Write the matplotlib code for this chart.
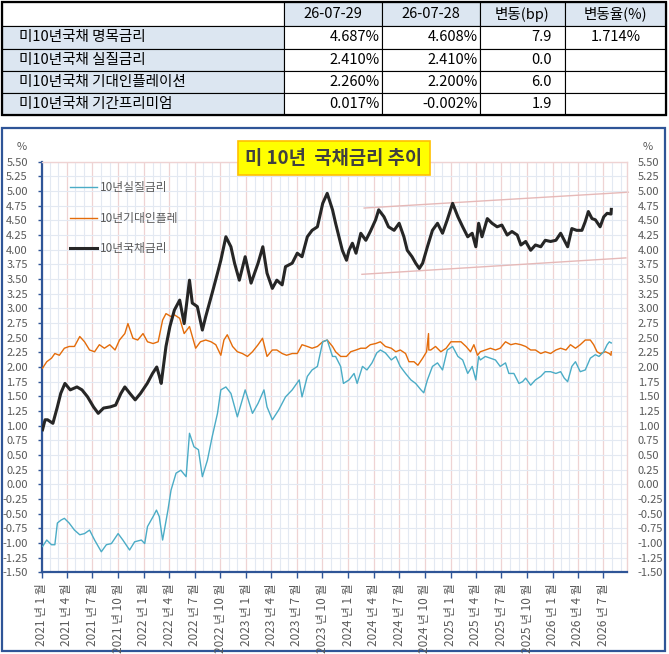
import matplotlib
matplotlib.use("Agg")
import matplotlib.pyplot as plt
import matplotlib.dates as mdates
from matplotlib.patches import Rectangle
from matplotlib.ticker import FuncFormatter
import numpy as np
import pandas as pd

plt.rcParams["font.family"] = ["Noto Sans CJK KR", "DejaVu Sans"]

# ---- table data
table_head = ["", "26-07-29", "26-07-28", "변동(bp)", "변동율(%)"]
table_rows = ["미10년국채 명목금리", "미10년국채 실질금리",
              "미10년국채 기대인플레이션", "미10년국채 기간프리미엄"]
table_cur = ["4.687%", "2.410%", "2.260%", "0.017%"]
table_prev = ["4.608%", "2.410%", "2.200%", "-0.002%"]
table_chg = ["7.9", "0.0", "6.0", "1.9"]
table_pct = ["1.714%", "", "", ""]

# ---- series
real = [
    ("2021-01-04", -1.06), ("2021-01-19", -0.95), ("2021-02-05", -1.03), ("2021-02-17", -1.03),
    ("2021-02-26", -0.66), ("2021-03-11", -0.61), ("2021-03-23", -0.58), ("2021-04-09", -0.66),
    ("2021-04-28", -0.78), ("2021-05-17", -0.86), ("2021-06-03", -0.84), ("2021-06-21", -0.78),
    ("2021-07-09", -0.95), ("2021-08-02", -1.15), ("2021-08-20", -1.03), ("2021-09-07", -1.01),
    ("2021-10-01", -0.84), ("2021-10-18", -0.95), ("2021-11-11", -1.12), ("2021-11-29", -0.98),
    ("2021-12-23", -0.95), ("2022-01-04", -1.01), ("2022-01-14", -0.72), ("2022-02-03", -0.55),
    ("2022-02-15", -0.44), ("2022-02-25", -0.55), ("2022-03-09", -0.95), ("2022-03-28", -0.44),
    ("2022-04-08", -0.10), ("2022-04-26", 0.19), ("2022-05-13", 0.24), ("2022-06-01", 0.13),
    ("2022-06-13", 0.87), ("2022-06-29", 0.64), ("2022-07-15", 0.59), ("2022-07-29", 0.13),
    ("2022-08-16", 0.41), ("2022-09-02", 0.81), ("2022-09-21", 1.21), ("2022-10-03", 1.61),
    ("2022-10-21", 1.66), ("2022-11-08", 1.55), ("2022-12-01", 1.15), ("2022-12-29", 1.61),
    ("2023-01-24", 1.21), ("2023-02-13", 1.38), ("2023-03-06", 1.61), ("2023-03-17", 1.32),
    ("2023-04-05", 1.10), ("2023-04-28", 1.27), ("2023-05-22", 1.49), ("2023-06-15", 1.61),
    ("2023-07-10", 1.78), ("2023-07-20", 1.49), ("2023-08-08", 1.84), ("2023-08-25", 1.95),
    ("2023-09-13", 2.01), ("2023-10-02", 2.43), ("2023-10-18", 2.46), ("2023-11-06", 2.18),
    ("2023-11-17", 2.18), ("2023-12-05", 2.01), ("2023-12-15", 1.72), ("2024-01-04", 1.78),
    ("2024-01-22", 1.89), ("2024-02-02", 1.72), ("2024-02-21", 2.01), ("2024-03-08", 1.95),
    ("2024-03-26", 2.07), ("2024-04-12", 2.24), ("2024-04-25", 2.29), ("2024-05-13", 2.24),
    ("2024-06-03", 2.12), ("2024-06-19", 2.18), ("2024-07-05", 2.01), ("2024-07-24", 1.89),
    ("2024-08-12", 1.78), ("2024-08-29", 1.72), ("2024-09-17", 1.61), ("2024-09-27", 1.56),
    ("2024-10-10", 1.78), ("2024-10-28", 2.01), ("2024-11-15", 2.07), ("2024-12-03", 1.95),
    ("2024-12-20", 2.29), ("2025-01-08", 2.35), ("2025-01-27", 2.18), ("2025-02-13", 2.12),
    ("2025-03-03", 1.89), ("2025-03-19", 2.01), ("2025-04-01", 1.78), ("2025-04-11", 2.18),
    ("2025-04-17", 2.12), ("2025-05-05", 2.18), ("2025-05-23", 2.15), ("2025-06-10", 2.12),
    ("2025-06-27", 2.01), ("2025-07-16", 2.07), ("2025-07-28", 1.89), ("2025-08-15", 1.89),
    ("2025-09-02", 1.72), ("2025-09-15", 1.75), ("2025-09-26", 1.81), ("2025-10-14", 1.69),
    ("2025-10-31", 1.78), ("2025-11-19", 1.84), ("2025-12-05", 1.92), ("2025-12-24", 1.92),
    ("2026-01-12", 1.89), ("2026-01-29", 1.92), ("2026-02-11", 1.81), ("2026-02-23", 1.75),
    ("2026-03-10", 2.01), ("2026-03-23", 2.09), ("2026-04-09", 1.92), ("2026-04-27", 1.95),
    ("2026-05-15", 2.15), ("2026-06-02", 2.21), ("2026-06-15", 2.18), ("2026-07-02", 2.26),
    ("2026-07-14", 2.38), ("2026-07-22", 2.43), ("2026-07-28", 2.41), ("2026-07-29", 2.41),
]

breakeven = [
    ("2021-01-04", 1.98), ("2021-01-19", 2.09), ("2021-02-05", 2.15), ("2021-02-17", 2.23),
    ("2021-03-05", 2.20), ("2021-03-23", 2.32), ("2021-04-09", 2.35), ("2021-04-28", 2.35),
    ("2021-05-17", 2.52), ("2021-06-03", 2.43), ("2021-06-21", 2.29), ("2021-07-09", 2.26),
    ("2021-07-26", 2.38), ("2021-08-13", 2.32), ("2021-09-01", 2.38), ("2021-09-20", 2.29),
    ("2021-10-06", 2.46), ("2021-10-25", 2.57), ("2021-11-05", 2.74), ("2021-11-23", 2.49),
    ("2021-12-10", 2.46), ("2021-12-29", 2.57), ("2022-01-14", 2.43), ("2022-02-03", 2.40),
    ("2022-02-21", 2.43), ("2022-03-09", 2.80), ("2022-03-21", 2.91), ("2022-04-08", 2.86),
    ("2022-04-20", 2.89), ("2022-05-09", 2.83), ("2022-05-25", 2.57), ("2022-06-13", 2.69),
    ("2022-07-05", 2.32), ("2022-07-22", 2.43), ("2022-08-10", 2.46), ("2022-08-29", 2.43),
    ("2022-09-15", 2.38), ("2022-10-03", 2.20), ("2022-10-14", 2.46), ("2022-10-26", 2.55),
    ("2022-11-14", 2.35), ("2022-12-01", 2.26), ("2022-12-19", 2.23), ("2023-01-06", 2.18),
    ("2023-01-24", 2.26), ("2023-02-13", 2.38), ("2023-03-01", 2.49), ("2023-03-17", 2.18),
    ("2023-04-05", 2.29), ("2023-04-21", 2.29), ("2023-05-10", 2.23), ("2023-05-26", 2.20),
    ("2023-06-15", 2.23), ("2023-07-03", 2.23), ("2023-07-20", 2.38), ("2023-08-08", 2.35),
    ("2023-08-25", 2.32), ("2023-09-13", 2.35), ("2023-10-02", 2.43), ("2023-10-18", 2.46),
    ("2023-11-06", 2.35), ("2023-11-17", 2.26), ("2023-12-05", 2.18), ("2023-12-26", 2.18),
    ("2024-01-10", 2.26), ("2024-01-29", 2.29), ("2024-02-15", 2.32), ("2024-03-04", 2.32),
    ("2024-03-20", 2.38), ("2024-04-08", 2.40), ("2024-04-25", 2.43), ("2024-05-13", 2.35),
    ("2024-06-03", 2.32), ("2024-06-19", 2.26), ("2024-07-05", 2.29), ("2024-07-24", 2.23),
    ("2024-08-05", 2.09), ("2024-08-23", 2.09), ("2024-09-06", 2.03), ("2024-09-23", 2.15),
    ("2024-10-07", 2.26), ("2024-10-14", 2.57), ("2024-10-15", 2.29), ("2024-10-22", 2.29),
    ("2024-11-08", 2.35), ("2024-11-27", 2.26), ("2024-12-16", 2.32), ("2025-01-02", 2.43),
    ("2025-01-21", 2.43), ("2025-02-07", 2.43), ("2025-02-25", 2.35), ("2025-03-13", 2.26),
    ("2025-03-25", 2.38), ("2025-04-07", 2.20), ("2025-04-17", 2.26), ("2025-05-05", 2.29),
    ("2025-05-23", 2.32), ("2025-06-10", 2.29), ("2025-06-27", 2.32), ("2025-07-16", 2.43),
    ("2025-08-04", 2.38), ("2025-08-21", 2.40), ("2025-09-09", 2.38), ("2025-09-26", 2.35),
    ("2025-10-14", 2.29), ("2025-10-31", 2.29), ("2025-11-19", 2.23), ("2025-12-05", 2.26),
    ("2025-12-24", 2.23), ("2026-01-12", 2.29), ("2026-01-29", 2.32), ("2026-02-17", 2.29),
    ("2026-03-05", 2.38), ("2026-03-23", 2.32), ("2026-04-09", 2.38), ("2026-04-27", 2.46),
    ("2026-05-15", 2.46), ("2026-05-27", 2.38), ("2026-06-08", 2.26), ("2026-06-19", 2.23),
    ("2026-07-08", 2.26), ("2026-07-22", 2.23), ("2026-07-28", 2.20), ("2026-07-29", 2.26),
]

nominal = [
    ("2021-01-04", 0.93), ("2021-01-13", 1.10), ("2021-01-22", 1.10), ("2021-02-10", 1.04),
    ("2021-02-26", 1.32), ("2021-03-10", 1.55), ("2021-03-25", 1.72), ("2021-04-13", 1.61),
    ("2021-05-07", 1.66), ("2021-05-25", 1.61), ("2021-06-14", 1.49), ("2021-07-05", 1.32),
    ("2021-07-22", 1.21), ("2021-08-10", 1.30), ("2021-09-03", 1.32), ("2021-09-22", 1.35),
    ("2021-10-11", 1.55), ("2021-10-25", 1.66), ("2021-11-12", 1.55), ("2021-12-01", 1.44),
    ("2021-12-20", 1.55), ("2022-01-13", 1.72), ("2022-02-01", 1.89), ("2022-02-16", 2.00),
    ("2022-02-25", 1.85), ("2022-03-04", 1.72), ("2022-03-21", 2.35), ("2022-04-04", 2.69),
    ("2022-04-20", 2.97), ("2022-05-09", 3.14), ("2022-05-25", 2.74), ("2022-06-13", 3.48),
    ("2022-06-23", 3.09), ("2022-07-11", 3.03), ("2022-07-29", 2.63), ("2022-08-10", 2.86),
    ("2022-09-02", 3.26), ("2022-09-21", 3.60), ("2022-10-03", 3.82), ("2022-10-21", 4.22),
    ("2022-11-08", 4.05), ("2022-11-21", 3.77), ("2022-12-08", 3.48), ("2022-12-29", 3.88),
    ("2023-01-19", 3.43), ("2023-02-13", 3.77), ("2023-03-02", 4.05), ("2023-03-17", 3.60),
    ("2023-04-05", 3.34), ("2023-04-21", 3.48), ("2023-05-10", 3.40), ("2023-05-22", 3.71),
    ("2023-06-15", 3.77), ("2023-07-03", 3.94), ("2023-07-20", 3.88), ("2023-08-08", 4.22),
    ("2023-08-25", 4.33), ("2023-09-13", 4.39), ("2023-10-02", 4.79), ("2023-10-18", 4.96),
    ("2023-11-06", 4.68), ("2023-11-17", 4.45), ("2023-11-29", 4.22), ("2023-12-11", 3.99),
    ("2023-12-26", 3.82), ("2024-01-04", 3.99), ("2024-01-16", 4.11), ("2024-01-29", 3.94),
    ("2024-02-15", 4.28), ("2024-03-04", 4.16), ("2024-03-20", 4.31), ("2024-04-08", 4.51),
    ("2024-04-19", 4.68), ("2024-05-08", 4.56), ("2024-05-24", 4.39), ("2024-06-13", 4.33),
    ("2024-07-01", 4.45), ("2024-07-18", 4.22), ("2024-07-30", 3.99), ("2024-08-16", 3.88),
    ("2024-08-29", 3.77), ("2024-09-11", 3.68), ("2024-09-23", 3.77), ("2024-10-10", 4.05),
    ("2024-10-28", 4.33), ("2024-11-15", 4.45), ("2024-12-03", 4.28), ("2024-12-20", 4.51),
    ("2025-01-08", 4.79), ("2025-01-27", 4.56), ("2025-02-13", 4.39), ("2025-03-03", 4.22),
    ("2025-03-19", 4.28), ("2025-04-01", 4.05), ("2025-04-11", 4.45), ("2025-04-23", 4.22),
    ("2025-05-12", 4.53), ("2025-05-29", 4.45), ("2025-06-16", 4.39), ("2025-07-03", 4.42),
    ("2025-07-22", 4.25), ("2025-08-08", 4.31), ("2025-08-27", 4.25), ("2025-09-09", 4.08),
    ("2025-09-26", 4.14), ("2025-10-14", 3.99), ("2025-10-31", 4.08), ("2025-11-19", 4.05),
    ("2025-12-05", 4.16), ("2025-12-24", 4.14), ("2026-01-12", 4.16), ("2026-01-29", 4.28),
    ("2026-02-11", 4.16), ("2026-02-23", 4.05), ("2026-03-10", 4.36), ("2026-03-27", 4.33),
    ("2026-04-15", 4.33), ("2026-04-27", 4.48), ("2026-05-08", 4.65), ("2026-05-21", 4.53),
    ("2026-06-02", 4.51), ("2026-06-19", 4.39), ("2026-07-02", 4.56), ("2026-07-14", 4.62),
    ("2026-07-28", 4.608), ("2026-07-29", 4.687),
]

# channel lines drawn over the 10y yield
upper_band = [("2024-02-27", 4.71), ("2026-09-28", 4.98)]
lower_band = [("2024-02-19", 3.58), ("2026-09-19", 3.86)]

names = ["10년실질금리", "10년기대인플레", "10년국채금리"]
colors = ["#4bacc6", "#e46c0a", "#262626"]


def split(pairs):
    d, v = zip(*pairs)
    return pd.to_datetime(list(d)), np.array(v)


W, H = 669, 654
fig = plt.figure(figsize=(W / 100, H / 100), dpi=100)
fig.patch.set_facecolor("white")

# background layer in pixel coordinates (table + chart frame)
bg = fig.add_axes([0, 0, 1, 1])
bg.set_xlim(0, W)
bg.set_ylim(H, 0)
bg.axis("off")

col_x = [2, 284, 382, 480, 565, 666]
row_y = [2, 26, 48.5, 71, 93, 115]
fill = "#dce6f1"
for r in range(5):
    for c in range(5):
        shaded = (r == 0 and c > 0) or (r > 0 and c == 0)
        bg.add_patch(Rectangle((col_x[c], row_y[r]), col_x[c + 1] - col_x[c],
                               row_y[r + 1] - row_y[r], fc=fill if shaded else "white",
                               ec="black", lw=0.8))
bg.add_patch(Rectangle((col_x[0], row_y[0]), col_x[-1] - col_x[0], row_y[-1] - row_y[0],
                       fc="none", ec="black", lw=1.6))
tfs = 10.5
for c in range(1, 5):
    bg.text((col_x[c] + col_x[c + 1]) / 2, (row_y[0] + row_y[1]) / 2, table_head[c],
            ha="center", va="center", fontsize=tfs)
for r in range(4):
    yc = (row_y[r + 1] + row_y[r + 2]) / 2
    bg.text(19, yc, table_rows[r], ha="left", va="center", fontsize=tfs)
    bg.text(col_x[2] - 2, yc, table_cur[r], ha="right", va="center", fontsize=tfs)
    bg.text(col_x[3] - 2, yc, table_prev[r], ha="right", va="center", fontsize=tfs)
    bg.text(col_x[4] - 13, yc, table_chg[r], ha="right", va="center", fontsize=tfs)
    bg.text((col_x[4] + col_x[5]) / 2, yc, table_pct[r], ha="center", va="center", fontsize=tfs)

bg.add_patch(Rectangle((1.7, 128.3), 663.5, 522.4, fc="none", ec="#2f5597", lw=1.6))
bg.text(22, 147, "%", ha="center", va="center", fontsize=8, color="#595959")
bg.text(648, 147, "%", ha="center", va="center", fontsize=8, color="#595959")

# ---- chart
left, right, top, bottom = 41.7, 626.7, 161.7, 572.3
ax = fig.add_axes([left / W, 1 - bottom / H, (right - left) / W, (bottom - top) / H])
ax.set_xlim(pd.Timestamp("2021-01-01"), pd.Timestamp("2026-09-22"))
ax.set_ylim(-1.5, 5.5)
yt = np.arange(-1.5, 5.51, 0.25)
ax.set_yticks(yt)
ax.yaxis.set_major_formatter(FuncFormatter(lambda v, p: f"{v:.2f}"))

ax.xaxis.set_major_locator(mdates.MonthLocator(bymonth=(1, 4, 7, 10)))
ax.xaxis.set_minor_locator(mdates.MonthLocator())
ax.xaxis.set_major_formatter(FuncFormatter(
    lambda v, p: f"{mdates.num2date(v).year} 년 {mdates.num2date(v).month} 월"))

ax.grid(axis="y", color="#e3e9f2", lw=0.8)
ax.grid(axis="x", which="minor", color="#e3e9f2", lw=0.8)
ax.grid(axis="x", which="major", color="#efd3d3", lw=0.9)
ax.set_axisbelow(True)

for s in ["left", "bottom"]:
    ax.spines[s].set_color("#2f5597")
    ax.spines[s].set_linewidth(1.6)
for s in ["top", "right"]:
    ax.spines[s].set_color("#efd3d3")
    ax.spines[s].set_linewidth(1.0)

ax.tick_params(axis="y", colors="#2f5597", labelcolor="#595959", labelsize=8,
               length=3, width=1, pad=7)
ax.tick_params(axis="x", which="major", colors="#2f5597", labelcolor="#595959",
               labelsize=8.5, length=4, width=1, pad=4, labelrotation=90)
ax.tick_params(axis="x", which="minor", length=0)

ax2 = ax.twinx()
ax2.set_ylim(-1.5, 5.5)
ax2.set_yticks(yt)
ax2.yaxis.set_major_formatter(FuncFormatter(lambda v, p: f"{v:.2f}"))
ax2.tick_params(axis="y", length=0, labelcolor="#595959", labelsize=8, pad=8)
for s in ax2.spines.values():
    s.set_visible(False)

d_r, v_r = split(real)
d_b, v_b = split(breakeven)
d_n, v_n = split(nominal)
l_b, = ax.plot(d_b, v_b, color=colors[1], lw=1.0, zorder=3)
l_r, = ax.plot(d_r, v_r, color=colors[0], lw=1.0, zorder=4)
l_n, = ax.plot(d_n, v_n, color=colors[2], lw=2.2, zorder=5)

for band in (upper_band, lower_band):
    bd, bv = split(band)
    ax.plot(bd, bv, color="#e6b9b8", lw=1.0, zorder=2, clip_on=False)

leg = ax.legend([l_r, l_b, l_n], names, loc="upper left",
                bbox_to_anchor=((70 - left) / (right - left), (bottom - 181) / (bottom - top)),
                frameon=False, fontsize=8.5, handlelength=2.3, handletextpad=0.2,
                labelspacing=1.5, borderpad=0, borderaxespad=0)
for t in leg.get_texts():
    t.set_color("#595959")

fig.text(334 / W, 1 - 158 / H, "미 10년  국채금리 추이", ha="center", va="center",
         fontsize=13.5, fontweight="bold", color="#404040",
         bbox=dict(boxstyle="square,pad=0.4", fc="#ffff00", ec="#ffc000", lw=1.2))

fig.savefig("out.png", dpi=100, facecolor="white")
